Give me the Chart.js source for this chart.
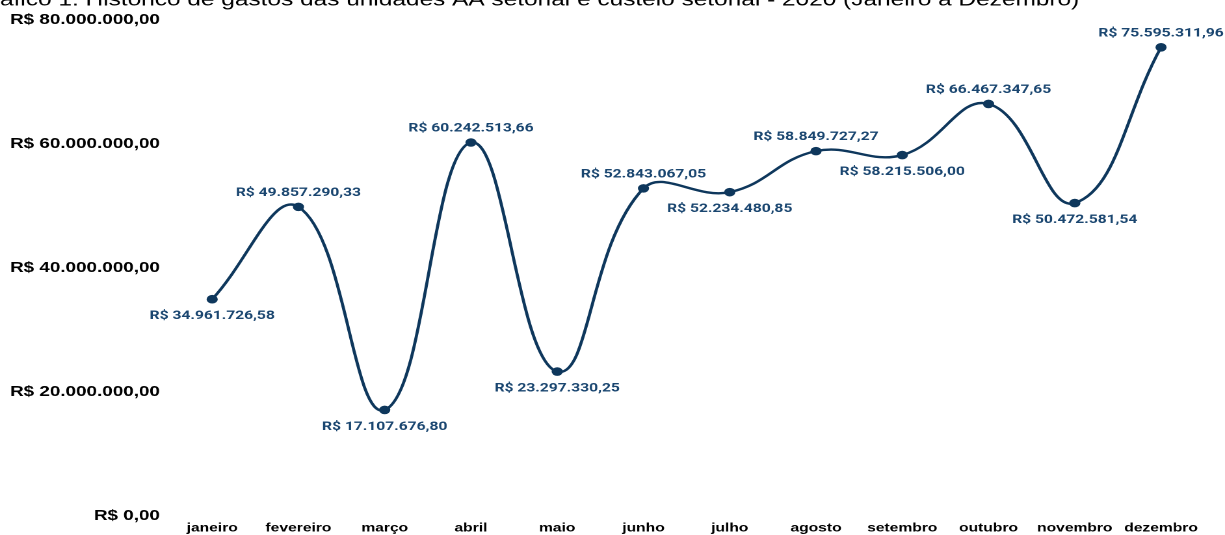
<!DOCTYPE html>
<html lang="pt-BR">
<head>
<meta charset="utf-8">
<title>Histórico de gastos 2020</title>
<script src="https://cdn.jsdelivr.net/npm/chart.js@4.4.1/dist/chart.umd.min.js"></script>
<style>
  html, body { margin: 0; padding: 0; background: #ffffff; }
  #wrap { position: relative; width: 1225px; height: 535px; overflow: hidden; background: #ffffff; }
  /* the chart is drawn narrow and widened horizontally, giving the broad lettering and oval markers */
  #chart { position: absolute; left: 0; top: 0; transform-origin: 0 0; transform: scaleX(1.3004); }
</style>
</head>
<body>
<div id="wrap"><canvas id="chart" width="942" height="535"></canvas></div>
<script>
// Months of 2020
const months = ['janeiro', 'fevereiro', 'março', 'abril', 'maio', 'junho',
                'julho', 'agosto', 'setembro', 'outubro', 'novembro', 'dezembro'];

// Monthly spending (R$)
const spending = [34961726.58, 49857290.33, 17107676.80, 60242513.66, 23297330.25, 52843067.05,
                  52234480.85, 58849727.27, 58215506.00, 66467347.65, 50472581.54, 75595311.96];

// Value axis ticks (R$)
const yTicks = [0, 20000000, 40000000, 60000000, 80000000];

const chartTitle = 'Gráfico 1: Histórico de gastos das unidades AA setorial e custeio setorial - 2020 (Janeiro a Dezembro)';

// Brazilian currency text: R$ 1.234.567,89
function brl(v) {
  const fixed = Math.abs(v).toFixed(2);
  const [intPart, dec] = fixed.split('.');
  const grouped = intPart.replace(/\B(?=(\d{3})+(?!\d))/g, '.');
  return 'R$ ' + (v < 0 ? '-' : '') + grouped + ',' + dec;
}

const LINE_COLOR = '#0e375c';
const LABEL_COLOR = '#1a4670';

// Value labels next to each point, alternating below / above the line
const valueLabels = {
  id: 'valueLabels',
  afterDatasetsDraw(chart) {
    const ctx = chart.ctx;
    const meta = chart.getDatasetMeta(0);
    const values = chart.data.datasets[0].data;
    ctx.save();
    ctx.font = 'bold 12px Roboto, "Liberation Sans", sans-serif';
    ctx.fillStyle = LABEL_COLOR;
    ctx.textAlign = 'center';
    ctx.textBaseline = 'middle';
    meta.data.forEach((pt, i) => {
      const below = i % 2 === 0;
      const dy = below ? 17 : -14;
      ctx.fillText(brl(values[i]), pt.x, pt.y + dy);
    });
    ctx.restore();
  }
};

// Heading text at the very top of the figure
const topHeading = {
  id: 'topHeading',
  afterDraw(chart) {
    const ctx = chart.ctx;
    ctx.save();
    ctx.font = '18.8px "Liberation Sans", Arial, sans-serif';
    ctx.fillStyle = '#000000';
    ctx.textAlign = 'left';
    ctx.textBaseline = 'alphabetic';
    const lead = ctx.measureText('Gr').width;
    ctx.fillText(chartTitle, -lead, 5.5);
    ctx.restore();
  }
};

new Chart(document.getElementById('chart'), {
  type: 'line',
  data: {
    labels: months,
    datasets: [{
      data: spending,
      borderColor: LINE_COLOR,
      backgroundColor: LINE_COLOR,
      borderWidth: 2.4,
      tension: 0.42,
      pointRadius: 4.3,
      pointHoverRadius: 4.3,
      pointBackgroundColor: LINE_COLOR,
      pointBorderColor: LINE_COLOR,
      pointBorderWidth: 0,
      fill: false,
      clip: false
    }]
  },
  options: {
    responsive: false,
    animation: false,
    devicePixelRatio: 2,
    layout: { padding: { top: 20, right: 16, bottom: 0, left: 0 } },
    plugins: {
      legend: { display: false },
      title: { display: false },
      tooltip: { enabled: false }
    },
    scales: {
      x: {
        offset: true,
        grid: { display: false, drawTicks: false },
        border: { display: false },
        ticks: {
          autoSkip: false,
          maxRotation: 0,
          minRotation: 0,
          padding: 5,
          color: '#000000',
          font: { family: '"Liberation Sans", Arial, sans-serif', size: 12, weight: 'bold' }
        },
        afterFit(scale) { scale.height = 19; }
      },
      y: {
        min: 0,
        max: 80000000,
        grid: { display: false, drawTicks: false },
        border: { display: false },
        afterBuildTicks(scale) { scale.ticks = yTicks.map(v => ({ value: v })); },
        ticks: {
          padding: 7,
          color: '#000000',
          font: { family: '"Liberation Sans", Arial, sans-serif', size: 14.5, weight: 'bold' },
          callback: (v) => brl(v)
        },
        afterFit(scale) { scale.width = 130; }
      }
    }
  },
  plugins: [valueLabels, topHeading]
});
</script>
</body>
</html>
